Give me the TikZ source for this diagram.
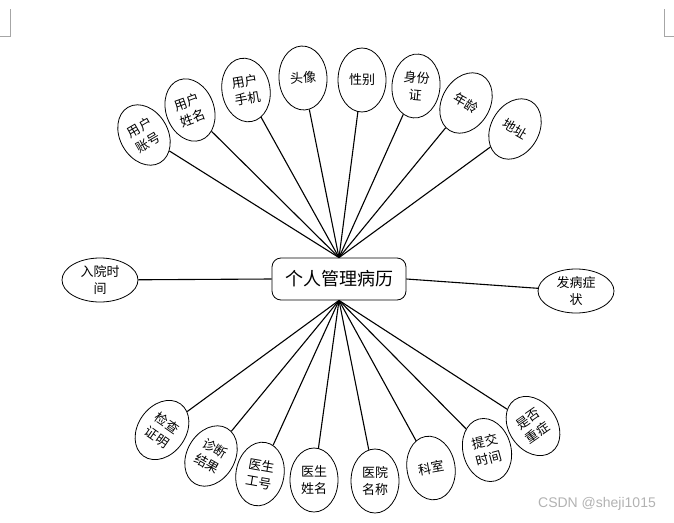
\documentclass[tikz,border=0pt]{standalone}
\usepackage{fontspec}
\newfontfamily\cjk{Noto Sans CJK SC}
\newfontfamily\wmfont{Liberation Sans}
\usetikzlibrary{shapes.geometric}

\begin{document}
\begin{tikzpicture}[
    x=1pt, y=-1pt,
    record/.style={draw, rounded corners=9pt, line width=0.8pt,
        minimum width=134pt, minimum height=42pt,
        font=\cjk\fontsize{18}{20}\selectfont},
    attr/.style={draw, ellipse, line width=0.8pt, inner sep=0pt,
        minimum width=48pt, minimum height=64pt, align=center,
        font=\cjk\fontsize{13}{17}\selectfont},
    wideattr/.style={attr, minimum width=76pt, minimum height=44pt},
    link/.style={line width=1.1pt}
]
\useasboundingbox (0,0) rectangle (674,522);

% page corner marks
\draw[gray!70, line width=0.6pt] (0,36) -- (10,36) -- (10,9);
\draw[gray!70, line width=0.6pt] (674,36) -- (664,36) -- (664,9);

\node[record] (blbl) at (339,279) {个人管理病历};

% attributes above
\node[attr, rotate=30]  (yhzh) at (144,135) {用户\\账号};
\node[attr, rotate=20]  (yhxm) at (190,110) {用户\\姓名};
\node[attr, rotate=10]  (yhsj) at (246,90)  {用户\\手机};
\node[attr, rotate=3]   (tx)   at (303,78)  {头像};
\node[attr]             (xb)   at (362,80)  {性别};
\node[attr, rotate=-5]  (sfz)  at (416,86)  {身份\\证};
\node[attr, rotate=-30] (nl)   at (466,103) {年龄};
\node[attr, rotate=-30] (dz)   at (515,129) {地址};

% attributes at the sides
\node[wideattr] (rysj) at (100,280) {入院时\\间};
\node[wideattr] (fbzz) at (576,291) {发病症\\状};

% attributes below
\node[attr, rotate=-35] (jczm) at (162,430) {检查\\证明};
\node[attr, rotate=-30] (zdjg) at (211,456) {诊断\\结果};
\node[attr, rotate=-10] (ysgh) at (260,474) {医生\\工号};
\node[attr]             (ysxm) at (314,480) {医生\\姓名};
\node[attr]             (yymc) at (375,481) {医院\\名称};
\node[attr, rotate=10]  (ks)   at (431,468) {科室};
\node[attr, rotate=15]  (tjsj) at (487,450) {提交\\时间};
\node[attr, rotate=35]  (sfzz) at (533,426) {是否\\重症};

\draw[link] (blbl.north) -- (yhzh);
\draw[link] (blbl.north) -- (yhxm);
\draw[link] (blbl.north) -- (yhsj);
\draw[link] (blbl.north) -- (tx);
\draw[link] (blbl.north) -- (xb);
\draw[link] (blbl.north) -- (sfz);
\draw[link] (blbl.north) -- (nl);
\draw[link] (blbl.north) -- (dz);

\draw[link] (blbl.west) -- (rysj);
\draw[link] (blbl.east) -- (fbzz);

\draw[link] (blbl.south) -- (jczm);
\draw[link] (blbl.south) -- (zdjg);
\draw[link] (blbl.south) -- (ysgh);
\draw[link] (blbl.south) -- (ysxm);
\draw[link] (blbl.south) -- (yymc);
\draw[link] (blbl.south) -- (ks);
\draw[link] (blbl.south) -- (tjsj);
\draw[link] (blbl.south) -- (sfzz);

% watermark
\node[gray!60, font=\wmfont\fontsize{14}{16}\selectfont] (wm) at (597,504) {CSDN @sheji1015};

\end{tikzpicture}
\end{document}
